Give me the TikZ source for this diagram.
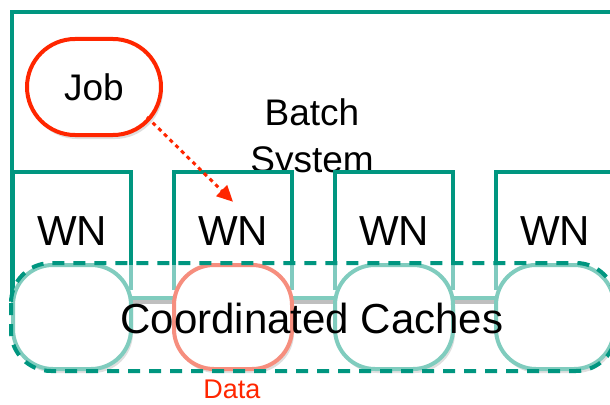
\documentclass[tikz,border=0pt]{standalone}
\usepackage{fontspec}
\setmainfont{Liberation Sans}
\usepackage{tikz}
\usetikzlibrary{arrows.meta}
\usetikzlibrary{shadows}

\definecolor{bsgreen}{RGB}{0,150,128}
\definecolor{bslight}{RGB}{128,204,190}
\definecolor{jobred}{RGB}{255,38,0}
\definecolor{datasalmon}{RGB}{246,142,126}

\begin{document}
\begin{tikzpicture}[x=1pt, y=-1pt,
  frame/.style={draw=bsgreen, line width=4pt},
  shade/.style={drop shadow={shadow xshift=2pt, shadow yshift=-4pt, fill=black!25}},
  jobnode/.style={draw=jobred, line width=4pt, fill=white, rounded corners=48pt,
    minimum width=134, minimum height=96, shade, font=\fontsize{37}{44}\selectfont},
  wnbox/.style={fill=white, minimum width=118, minimum height=118,
    font=\fontsize{42}{48}\selectfont},
  cache/.style={line width=4pt, fill=white, rounded corners=40pt,
    minimum width=118, minimum height=104, shade},
  cachedash/.style={draw=bsgreen, line width=4pt, dash pattern=on 12pt off 9pt,
    rounded corners=40pt},
  jobarrow/.style={draw=jobred, line width=3pt, dash pattern=on 4pt off 4pt,
    -{Triangle[length=16pt, width=15pt, fill=jobred]}}]
\useasboundingbox (0,0) rectangle (610,404);

% batch system
\draw[frame] (614,12) -- (12,12) -- (12,300);
\node[jobnode] (job) at (94,87) {Job};
\node[align=center, font=\fontsize{37}{47}\selectfont] (bs) at (312,139) {Batch\\System};

% worker nodes
\foreach \i in {1,...,4} {
  \node[wnbox] (wn\i) at (72+161*\i-161, 231) {WN};
  \draw[frame] (wn\i.south west) -- (wn\i.north west) -- (wn\i.north east) -- (wn\i.south east);
}

% caches
\fill[white, fill opacity=0.5, rounded corners=40pt] (12,265) rectangle (611,369);
\draw[black!25, line width=4pt] (74,302) -- (557,302);
\draw[bslight, line width=4pt] (72,298) -- (555,298);
\foreach \i/\col in {1/bslight, 2/datasalmon, 3/bslight, 4/bslight}
  \node[cache, draw=\col] (c\i) at (72+161*\i-161, 317) {};
\draw[cachedash] (c1.north west) rectangle (c4.south east);
\node[font=\fontsize{42}{48}\selectfont] (cc) at (312,318) {Coordinated Caches};
\node[text=jobred, font=\fontsize{27}{30}\selectfont, inner sep=1pt] (data) at (232,389) {Data};

\draw[jobarrow] ([xshift=-16pt, yshift=20pt]job.south east) -- ([yshift=-30pt]wn2.north);
\end{tikzpicture}
\end{document}
